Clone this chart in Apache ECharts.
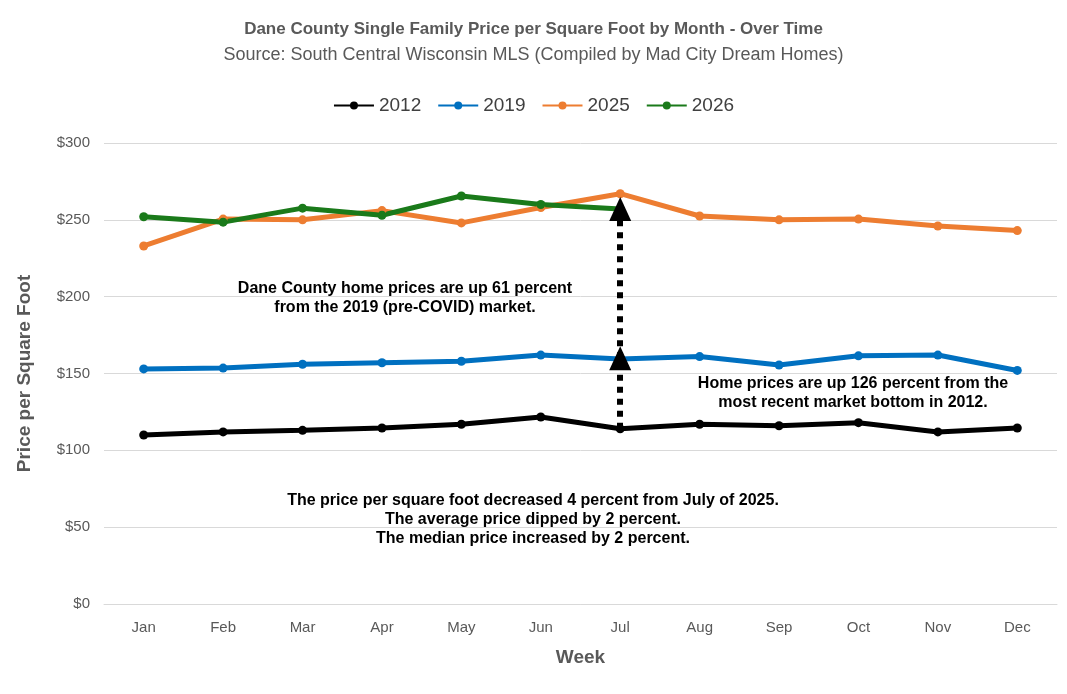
<!DOCTYPE html>
<html><head><meta charset="utf-8">
<script src="https://cdn.jsdelivr.net/npm/echarts@6/dist/echarts.min.js"></script>
<style>html,body{margin:0;background:#fff}#c{width:1067px;height:694px}</style>
</head><body><div id="c"></div>
<script>
const months=['Jan','Feb','Mar','Apr','May','Jun','Jul','Aug','Sep','Oct','Nov','Dec'];
const s2012=[110,112,113,114.5,117,121.7,114,117,116,118,112,114.5];
const s2019=[153,153.5,156,157,158,162,159.5,161,155.5,161.5,162,152];
const s2025=[233,250.5,250,256,248,258,267,252.5,250,250.5,246,243];
const s2026=[252,248.5,257.6,253,265.5,260,257];
const yTicks=[0,50,100,150,200,250,300];
const F='Liberation Sans, Arial, sans-serif';
const mk=(name,data,color)=>({name,type:'line',data,symbol:'circle',symbolSize:9,lineStyle:{width:5,color},itemStyle:{color},z:3});
const arrowStyle={color:'#000',type:[6,6],width:6};
const s0=mk('2012',s2012,'#000');
s0.markLine={silent:true,symbol:['none','triangle'],symbolSize:[22,24],label:{show:false},lineStyle:arrowStyle,
 data:[[{coord:['Jul',114]},{coord:['Jul',160]}],[{coord:['Jul',160]},{coord:['Jul',257]}]]};
const chart=echarts.init(document.getElementById('c'));
chart.setOption({
 animation:false,
 title:{text:'Dane County Single Family Price per Square Foot by Month - Over Time',subtext:'Source: South Central Wisconsin MLS (Compiled by Mad City Dream Homes)',left:'center',top:16,itemGap:8,
  textStyle:{fontFamily:F,fontSize:17,fontWeight:'bold',color:'#595959'},subtextStyle:{fontFamily:F,fontSize:18,color:'#595959'}},
 legend:{top:91,left:'center',itemWidth:40,itemHeight:10,itemGap:16,textStyle:{fontFamily:F,fontSize:19,color:'#404040'},data:['2012','2019','2025','2026']},
 grid:{left:104,right:10,top:143,bottom:90},
 xAxis:{type:'category',data:months,boundaryGap:true,name:'Week',nameLocation:'middle',nameGap:44,
  nameTextStyle:{fontFamily:F,fontSize:19,fontWeight:'bold',color:'#595959'},
  axisLine:{lineStyle:{color:'#d9d9d9'}},axisTick:{show:false},axisLabel:{fontFamily:F,fontSize:15,color:'#595959',margin:16}},
 yAxis:{type:'value',min:0,max:300,interval:50,name:'Price per Square Foot',nameLocation:'middle',nameGap:70,
  nameTextStyle:{fontFamily:F,fontSize:19,fontWeight:'bold',color:'#595959'},
  splitLine:{lineStyle:{color:'#d9d9d9'}},axisLabel:{fontFamily:F,fontSize:15,color:'#595959',margin:14,formatter:v=>'$'+v}},
 graphic:[
  {type:'text',style:{x:405,y:279,text:'Dane County home prices are up 61 percent\nfrom the 2019 (pre-COVID) market.',align:'center',font:'bold 16px '+F,fill:'#000',lineHeight:19}},
  {type:'text',style:{x:853,y:374,text:'Home prices are up 126 percent from the\nmost recent market bottom in 2012.',align:'center',font:'bold 16px '+F,fill:'#000',lineHeight:19}},
  {type:'text',style:{x:533,y:491,text:'The price per square foot decreased 4 percent from July of 2025.\nThe average price dipped by 2 percent.\nThe median price increased by 2 percent.',align:'center',font:'bold 16px '+F,fill:'#000',lineHeight:19}}
 ],
 series:[s0,mk('2019',s2019,'#0070c0'),mk('2025',s2025,'#ed7d31'),mk('2026',s2026,'#1a7a1a')]
});
</script></body></html>
